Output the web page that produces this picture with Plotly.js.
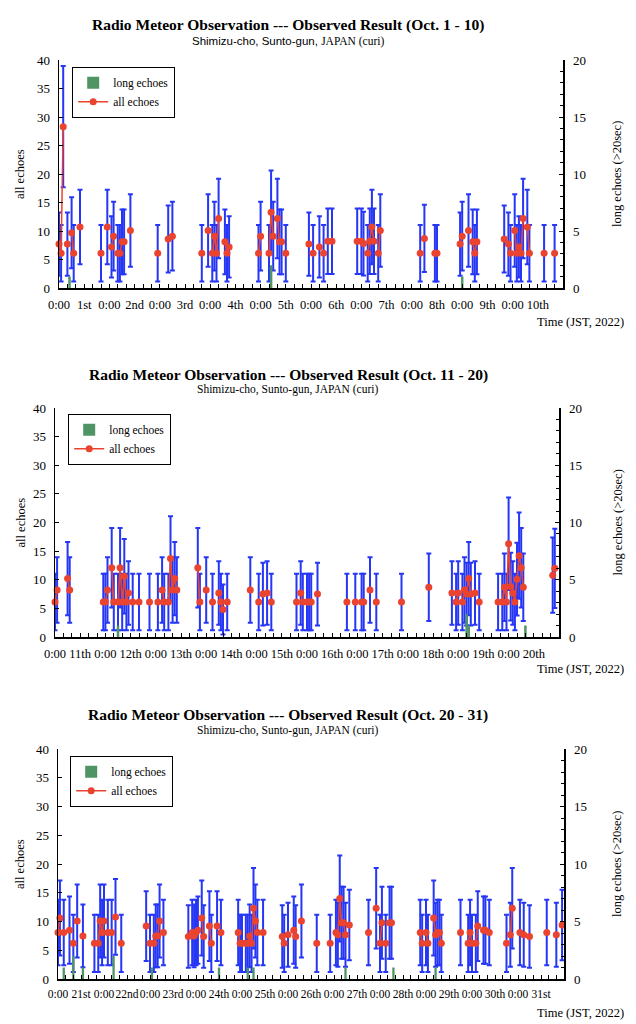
<!DOCTYPE html>
<html><head><meta charset="utf-8">
<script src="https://cdn.plot.ly/plotly-3.0.1.min.js"></script>
<style>html,body{margin:0;padding:0;background:#fff}#chart{width:636px;height:1024px}</style>
</head><body><div id="chart"></div>
<script>
// ---------- Panel 1: Oct 1 - 10 (hour index from Oct 1 0:00) ----------
const P1_HOURS = [0,1,2,4,6,7,10, 20,23,25,26,28,29,30,31,34, 47,52,54, 68,71,73,74,75,76,79,80,81,
  95,96,100,101,102,104,105,106,108, 119,121,124,126,128,130, 142,144,145,147,148,149,150,152,153,
  172,174,179,180, 191,192,195,197,198,199, 212,214,215,217,218,219,220,221,223,224,231,236];
const P1_ALL = [7.7,6.1,28.3,7.7,9.7,6.1,10.7, 6.1,10.7,7.2,9.1,6.1,6.1,8.1,8.1,10.1, 6.1,8.6,9.1, 6.1,10.1,6.1,9.1,6.1,12.2,8.1,6.1,7.2,
  6.1,9.1,6.1,13.3,9.1,12.2,8.1,8.1,6.1, 7.7,6.1,7.2,6.1,8.2,8.2, 8.2,8.2,7.8,6.1,8.2,10.7,8.2,6.1,10.1,
  6.1,8.7,6.1,6.1, 7.7,9.1,10.1,8.1,6.1,8.1, 8.6,7.7,6.1,10.1,6.1,7.2,6.1,12.2,10.7,6.1,6.1,6.1];
const P1_LONG_HOURS = [5,101,192];
const P1_LONG = [1,2,1];
const P1_DAYS = ['1st','2nd','3rd','4th','5th','6th','7th','8th','9th','10th'];

// ---------- Panel 2: Oct 11 - 20 ----------
const P2_HOURS = [0,1,6,7, 23,24,25,27,28,30,31,32,33,34,35,37,40, 45,49,51,52,54,55,56,57,58,
  68,69,72,75,78,79,80,82, 93,97,99,101,103, 115,117,118,120,121,122,125, 139,143,146,147,150,153,
  165,178, 189,191,192,194,195,196,197,198,200,202, 211,213,214,215,216,217,218,219,220,221,222,223,237,238];
const P2_ALL = [6.1,8.2,10.2,8.2, 6.1,6.1,8.2,12.1,6.1,6.1,12.1,6.1,10.6,6.1,7.7,6.1,6.1, 6.1,6.1,8.2,6.1,6.1,13.7,8.2,10.2,8.2,
  12.1,6.1,8.2,6.1,7.7,6.1,4.8,6.1, 8.2,6.1,7.5,7.7,6.1, 6.1,7.7,6.1,6.1,6.1,6.1,7.5, 6.1,6.1,6.1,6.1,8.2,6.1,
  6.1,8.7, 7.7,6.1,7.7,6.1,8.2,7.5,10.2,7.5,7.7,6.1, 6.1,6.1,8.7,6.1,16.3,8.8,7.7,6.1,10.1,14.2,12.1,8.7,10.8,12.0];
const P2_LONG_HOURS = [30,196,197,224];
const P2_LONG = [1,2,1,1];
const P2_DAYS = ['11th','12th','13th','14th','15th','16th','17th','18th','19th','20th'];

// ---------- Panel 3: Oct 20 - 31 ----------
const P3_HOURS = [0,1,3,6,8,10,13, 19,21,22,23,24,26,28,30,33, 46,48,50,51,52,53,55,
  68,70,71,72,73,75,76,79,80,83,85, 94,95,96,98,99,100,101,102,103,104,107, 117,118,120,123,124,127,135,
  142,145,146,147,148,149,150,152, 162,166,168,169,171,173,174, 189,190,192,193,196,197,198,199,200,
  210,214,215,216,218,219,222,223,225, 234,236,237,241,243,246,255,260,263];
const P3_ALL = [8.1,10.6,8.1,8.5,6.2,10.1,7.5, 6.2,6.2,10.1,8.1,10.1,8.1,8.1,10.8,6.2, 9.2,6.2,6.2,7.5,7.5,10.1,8.1,
  7.4,8.1,7.5,8.1,8.5,10.6,7.4,9.2,6.2,9.2,8.1, 8.1,6.2,6.2,6.2,6.2,7.5,6.2,12.3,10.1,8.1,8.1, 7.4,6.2,7.7,8.5,7.4,10.1,6.2,
  6.2,8.1,7.7,14.0,9.8,9.8,7.7,9.4, 8.1,12.3,6.2,9.8,6.2,9.8,9.8, 8.1,6.2,8.1,6.2,10.6,7.7,8.1,8.1,6.2,
  8.1,6.2,8.1,6.2,6.2,9.2,8.5,8.5,8.1, 6.2,7.7,12.3,8.1,7.7,7.4,8.1,7.7,9.4];
const P3_LONG_HOURS = [3,8,13,29,49,84,99,102,150,175,197];
const P3_LONG = [1,2,1,2,1,1,1,1,1,1,1];
const P3_DAYS = ['21st','22nd','23rd','24th','25th','26th','27th','28th','29th','30th','31st'];

const TITLES = ['Radio Meteor Observation --- Observed Result (Oct. 1 - 10)',
                'Radio Meteor Observation --- Observed Result (Oct. 11 - 20)',
                'Radio Meteor Observation --- Observed Result (Oct. 20 - 31)'];
const SUBTITLE = 'Shimizu-cho, Sunto-gun, JAPAN (curi)';
const Y_LEFT_TITLE = 'all echoes';
const Y_RIGHT_TITLE = 'long echoes (>20sec)';
const X_TITLE = 'Time (JST, 2022)';
const MIDNIGHT = '0:00';

// ---------- layout geometry (pixels) ----------
const W = 636, H = 1024;
const SERIF = 'Liberation Serif, Times New Roman, serif';
const RED = '#ea4330', BLUE = '#2536f5', GREEN = '#4f9464';
const px = x => x / W, py = y => 1 - y / H;

const panels = [
  {hours:P1_HOURS, vals:P1_ALL, lh:P1_LONG_HOURS, lv:P1_LONG, days:P1_DAYS,
   box:[59,563,60,288], title:25, sub:41, legend:[72,67], xt:322, tickSize:12.5},
  {hours:P2_HOURS, vals:P2_ALL, lh:P2_LONG_HOURS, lv:P2_LONG, days:P2_DAYS,
   box:[55,559,408,637], title:375, sub:389, legend:[68,414], xt:669, tickSize:12.5},
  {hours:P3_HOURS, vals:P3_ALL, lh:P3_LONG_HOURS, lv:P3_LONG, days:P3_DAYS,
   box:[58,564,749,979], title:715, sub:730, legend:[70,756], xt:1013, tickSize:11.5}
];

const data = [];
const layout = {
  width: W, height: H, margin:{l:0,r:0,t:0,b:0},
  paper_bgcolor:'#fff', plot_bgcolor:'rgba(0,0,0,0)',
  showlegend:true, annotations:[], font:{family:SERIF, color:'#000'}
};

panels.forEach((p, i) => {
  const k = i + 1;
  const xs = k === 1 ? '' : String(k);
  const yl = 2*k - 1, yr = 2*k;
  const yls = yl === 1 ? '' : String(yl);
  const yrs = String(yr);
  const legName = k === 1 ? 'legend' : 'legend' + k;
  const nHours = p.days.length * 24;

  // hourly series with gaps (no line between non-adjacent hours)
  const xh = [], yh = [], eh = [];
  for (let h = 0; h <= nHours; h++) { xh.push(h); yh.push(null); eh.push(null); }
  p.hours.forEach((h, j) => { yh[h] = p.vals[j]; eh[h] = 2 * Math.sqrt(p.vals[j]); });

  data.push({
    type:'bar', name:'long echoes', x:p.lh, y:p.lv, width:1.2,
    xaxis:'x'+xs, yaxis:'y'+yrs, legend:legName,
    marker:{color:GREEN, line:{width:0}}, hoverinfo:'skip'
  });
  data.push({
    type:'scatter', mode:'lines+markers', name:'all echoes', x:xh, y:yh,
    xaxis:'x'+xs, yaxis:'y'+yls, legend:legName, connectgaps:false, cliponaxis:false,
    line:{color:RED, width:1.5}, marker:{color:RED, size:7},
    error_y:{type:'data', array:eh, visible:true, color:BLUE, thickness:2, width:2.5}
  });

  const tv = [], tt = [];
  p.days.forEach((d, j) => { tv.push(j*24); tt.push(MIDNIGHT); tv.push(j*24+12); tt.push(d); });

  const [x0,x1,y0,y1] = p.box;
  layout['xaxis'+xs] = {
    domain:[px(x0), px(x1)], range:[0, nHours], anchor:'y'+yls,
    showline:true, linecolor:'#000', linewidth:1.5, zeroline:false, showgrid:false,
    ticks:'inside', ticklen:4, tickwidth:1, tickcolor:'#000',
    tickmode:'array', tickvals:tv, ticktext:tt, tickangle:0, ticklabelstandoff:4,
    tickfont:{family:SERIF, size:p.tickSize, color:'#000'},
    minor:{tickmode:'linear', tick0:0, dtick:4, ticks:'inside', ticklen:4, tickcolor:'#000', showgrid:false},
    fixedrange:true
  };
  layout['yaxis'+yls] = {
    domain:[py(y1), py(y0)], range:[0,40], anchor:'x'+xs, dtick:5, tick0:0,
    showline:true, linecolor:'#000', linewidth:1.5, zeroline:false, showgrid:false,
    ticks:'inside', ticklen:4, tickcolor:'#000', ticklabelstandoff:5,
    tickfont:{family:SERIF, size:13, color:'#000'}, fixedrange:true
  };
  layout['yaxis'+yrs] = {
    overlaying:'y'+yls, side:'right', anchor:'x'+xs, range:[0,20], dtick:5, tick0:0,
    showline:true, linecolor:'#000', linewidth:1.5, zeroline:false, showgrid:false,
    ticks:'inside', ticklen:4, tickcolor:'#000', ticklabelstandoff:6,
    minor:{tickmode:'linear', tick0:0, dtick:1, ticks:'inside', ticklen:3, tickcolor:'#000', showgrid:false},
    tickfont:{family:SERIF, size:13, color:'#000'}, fixedrange:true
  };
  layout[legName] = {
    x:px(p.legend[0]), y:py(p.legend[1]), xanchor:'left', yanchor:'top',
    bgcolor:'#fff', bordercolor:'#000', borderwidth:1.2,
    font:{family:SERIF, size:11.5, color:'#000'}, traceorder:'normal',
    tracegroupgap:0, itemwidth:30
  };

  const subText = k === 1
    ? '<span style="font-family:\'Liberation Sans Narrow\',\'Liberation Sans\',sans-serif">Shimizu-cho, Sunto-gun, </span>JAPAN (curi)'
    : SUBTITLE;
  layout.annotations.push(
    {text:'<b>'+TITLES[i]+'</b>', xref:'paper', yref:'paper', x:px(288), y:py(p.title),
     xanchor:'center', yanchor:'middle', showarrow:false, font:{family:SERIF, size:15.5, color:'#000'}},
    {text:subText, xref:'paper', yref:'paper', x:px(288), y:py(p.sub),
     xanchor:'center', yanchor:'middle', showarrow:false, font:{family:SERIF, size:11.5, color:'#000'}},
    {text:Y_LEFT_TITLE, xref:'paper', yref:'paper', x:px(20), y:py((y0+y1)/2), textangle:-90,
     xanchor:'center', yanchor:'middle', showarrow:false, font:{family:SERIF, size:12.5, color:'#000'}},
    {text:Y_RIGHT_TITLE, xref:'paper', yref:'paper', x:px(617), y:py((y0+y1)/2), textangle:-90,
     xanchor:'center', yanchor:'middle', showarrow:false, font:{family:SERIF, size:12.5, color:'#000'}},
    {text:X_TITLE, xref:'paper', yref:'paper', x:px(626), y:py(p.xt),
     xanchor:'right', yanchor:'middle', showarrow:false, font:{family:SERIF, size:12.5, color:'#000'}}
  );
});

Plotly.newPlot('chart', data, layout, {displayModeBar:false, staticPlot:true});
</script>
</body></html>
